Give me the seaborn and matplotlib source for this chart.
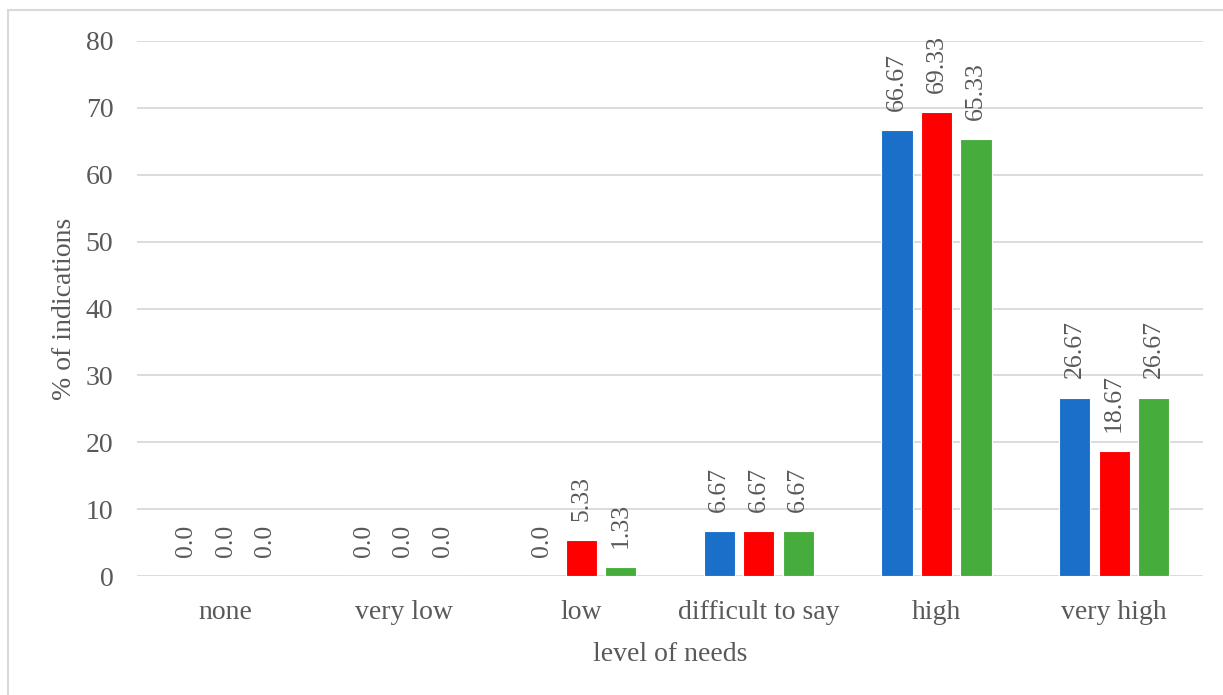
import matplotlib
matplotlib.use("Agg")
import matplotlib.pyplot as plt
from matplotlib.patches import Rectangle
import pandas as pd
import seaborn as sns

# Survey results: share of indications per level of needs, three respondent groups
categories = ["none", "very low", "low", "difficult to say", "high", "very high"]
series_names = ["Group 1", "Group 2", "Group 3"]
group1 = [0.0, 0.0, 0.0, 6.67, 66.67, 26.67]
group2 = [0.0, 0.0, 5.33, 6.67, 69.33, 18.67]
group3 = [0.0, 0.0, 1.33, 6.67, 65.33, 26.67]
colors = ["#1A70C8", "#FF0000", "#46AD3C"]
y_ticks = [0, 10, 20, 30, 40, 50, 60, 70, 80]

rows = []
for name, vals in zip(series_names, [group1, group2, group3]):
    for cat, v in zip(categories, vals):
        rows.append({"level": cat, "group": name, "value": v})
df = pd.DataFrame(rows)

sns.set_theme(style="white")
plt.rcParams["font.family"] = ["Liberation Serif", "DejaVu Serif"]
text_color = "#595959"
fs = 20

fig = plt.figure(figsize=(12.23, 6.95), dpi=100)
ax = fig.add_axes([137 / 1223, 1 - 576 / 695, (1203 - 137) / 1223, (576 - 41) / 695])

sns.barplot(
    data=df, x="level", y="value", hue="group", order=categories,
    hue_order=series_names, palette=colors, saturation=1, width=0.667, gap=0.21,
    edgecolor="white", linewidth=0.8, legend=False, ax=ax, errorbar=None,
)

ax.set_ylim(0, 80)
ax.set_yticks(y_ticks)
ax.set_xlim(-0.5, len(categories) - 0.5)
ax.yaxis.grid(True, color="#D9D9D9", linewidth=1.3)
ax.set_axisbelow(True)
for s in ax.spines.values():
    s.set_visible(False)
ax.tick_params(axis="both", length=0, labelsize=fs, labelcolor=text_color)
ax.tick_params(axis="y", pad=17)
ax.tick_params(axis="x", pad=17.5)

ax.set_xlabel("level of needs", fontsize=fs, color=text_color, labelpad=12)
ax.set_ylabel("% of indications", fontsize=fs, color=text_color, labelpad=6)


def fmt(v):
    return "0.0" if v == 0 else f"{v:.2f}"


for cont, vals in zip(ax.containers, [group1, group2, group3]):
    ax.bar_label(cont, labels=[fmt(v) for v in vals], rotation=90, padding=14,
                 fontsize=18.5, color=text_color)

# thin frame around the chart area
fig.add_artist(Rectangle((8 / 1223, -0.05), 1.2, 1.05 - 10 / 695,
                         transform=fig.transFigure, fill=False,
                         edgecolor="#D9D9D9", linewidth=1.5))

fig.savefig("out.png", dpi=100)
